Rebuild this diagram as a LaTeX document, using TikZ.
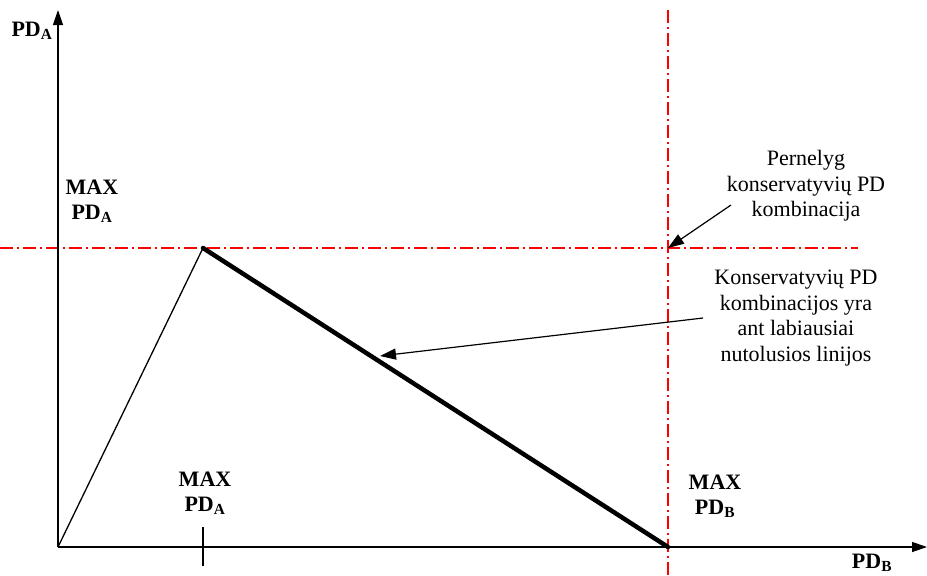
\documentclass[tikz,border=0pt]{standalone}
\usepackage{fontspec}
\setmainfont{Liberation Serif}
\usetikzlibrary{arrows.meta}
\begin{document}
\begin{tikzpicture}[x=1pt,y=-1pt,
  axis/.style={line width=1.3pt,-{Triangle[length=15pt,width=10pt]}},
  redline/.style={red,line width=1.4pt,dash pattern=on 13pt off 4pt on 2pt off 4pt},
  lbl/.style={font=\fontsize{22}{25}\selectfont\bfseries,align=center,inner sep=0pt},
  note/.style={font=\fontsize{22}{25.5}\selectfont,align=center,inner sep=0pt},
  pointer/.style={line width=1.2pt,-{Triangle[length=16pt,width=11pt]}}]
\useasboundingbox (0,0) rectangle (927,576);
\coordinate (O) at (58,547);
\coordinate (ytop) at (58,10);
\coordinate (xend) at (927,547);
\coordinate (peak) at (203,248);
\coordinate (maxb) at (668,547);
\coordinate (hl) at (0,248);
\coordinate (hr) at (858,248);
\coordinate (vt) at (668,10);
\coordinate (vb) at (668,576);
\coordinate (tickt) at (203,527);
\coordinate (tickb) at (203,566);
\coordinate (cross) at (668,248);
\coordinate (onthick) at (380,356);
\coordinate (p1) at (731,205);
\coordinate (p2) at (703,318);
% red reference lines
\draw[redline] (hl) -- (hr);
\draw[redline] (vt) -- (vb);
% axes
\draw[axis] (O) -- (ytop);
\draw[axis] (O) -- (xend);
\draw[line width=1.3pt] (tickt) -- (tickb);
% lines
\draw[line width=1.3pt] (O) -- (peak);
\draw[line width=4.5pt,line cap=round] (peak) -- (maxb);
% labels
\node[lbl] (pda) at (32,31) {PD\textsubscript{A}};
\node[lbl] (maxpdaL) at (92,201) {MAX\\PD\textsubscript{A}};
\node[lbl] (maxpdaB) at (205,493) {MAX\\PD\textsubscript{A}};
\node[lbl] (maxpdb) at (715,496) {MAX\\PD\textsubscript{B}};
\node[lbl] (pdb) at (872,563) {PD\textsubscript{B}};
\node[note] (n1) at (806,186) {Pernelyg\\konservatyvių PD\\kombinacija};
\node[note] (n2) at (796,318) {Konservatyvių PD\\kombinacijos yra\\ant labiausiai\\nutolusios linijos};
\draw[pointer] (p1) -- (cross);
\draw[pointer] (p2) -- (onthick);
\end{tikzpicture}
\end{document}
